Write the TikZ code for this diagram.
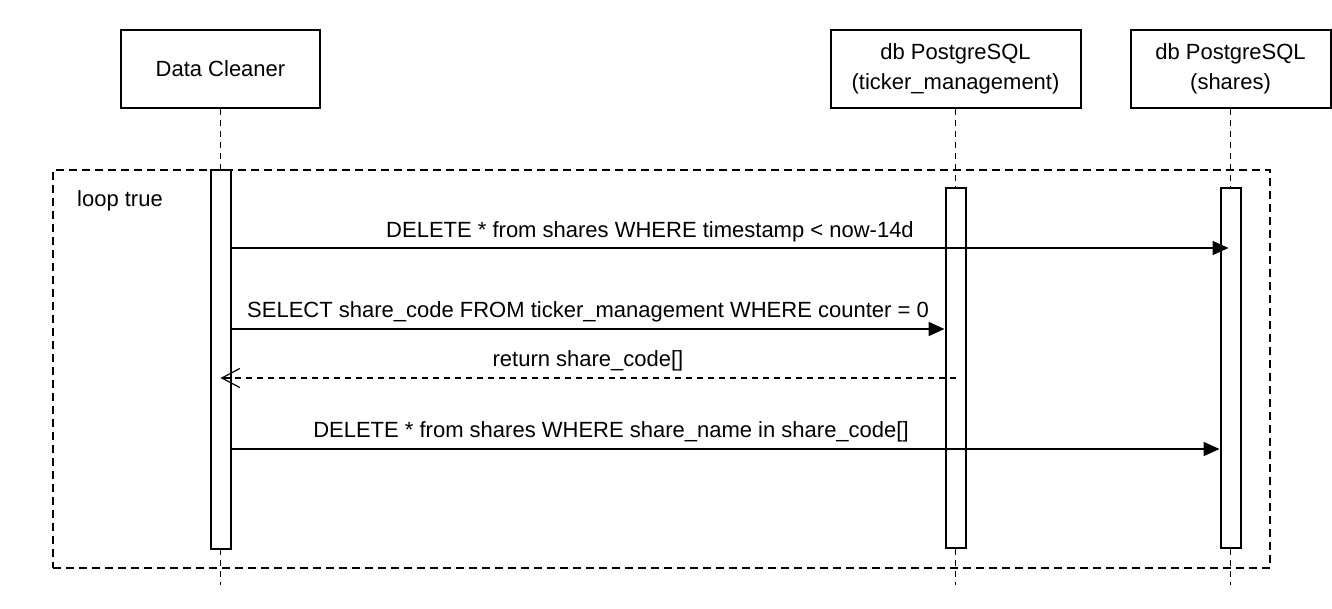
\documentclass[tikz,border=0pt]{standalone}
\usepackage{fontspec}
\setmainfont{Liberation Sans}
\usetikzlibrary{arrows.meta}
\tikzset{
  txt/.style={font=\fontsize{22}{30}\selectfont, inner sep=0pt},
  participant/.style={draw, line width=2pt, fill=white, txt, align=center},
  lifeline/.style={line width=1.8pt, dash pattern=on 6pt off 5pt},
  frame/.style={line width=2pt, dash pattern=on 8pt off 5pt},
  actbar/.style={draw, line width=2pt, fill=white, minimum width=20pt, inner sep=0pt},
  msg/.style={line width=1.8pt, -{Triangle[length=16pt,width=14pt]}},
  ret/.style={line width=1.8pt, dash pattern=on 6pt off 5pt, -{Straight Barb[length=18pt,width=19pt,line width=1.2pt]}},
}
\begin{document}
\begin{tikzpicture}[x=1pt,y=-1pt]
\useasboundingbox (0,0) rectangle (1332,608);
% participants
\node[participant, minimum width=199pt, minimum height=78pt] (p1) at (220.5,69) {Data Cleaner};
\node[participant, minimum width=250pt, minimum height=78pt] (p2) at (955.5,69) {db PostgreSQL\\(ticker\_management)};
\node[participant, minimum width=200pt, minimum height=78pt] (p3) at (1230.5,69) {db PostgreSQL\\(shares)};
% lifeline ends
\coordinate (e1) at (220.5,585);
\coordinate (e2) at (955.5,585);
\coordinate (e3) at (1230.5,585);
\draw[lifeline] (p1.south) -- (e1);
\draw[lifeline] (p2.south) -- (e2);
\draw[lifeline] (p3.south) -- (e3);
% loop frame
\node[draw, frame, minimum width=1217pt, minimum height=398pt, inner sep=0pt] (loop) at (661.5,369) {};
\node[txt, anchor=west] (looplbl) at (77,201) {loop true};
% activation bars
\node[actbar, minimum height=379pt] (a1) at (220.5,359) {};
\node[actbar, minimum height=360pt] (a2) at (955.5,368) {};
\node[actbar, minimum height=360pt] (a3) at (1230.5,368) {};
% message rows
\coordinate (m1) at (0,248);
\coordinate (m2) at (0,329);
\coordinate (m3) at (0,378);
\coordinate (m4) at (0,449);
\draw[msg, shorten >=2pt] (a1.east |- m1) -- (a3.center |- m1);
\node[txt] (l1) at (650,232) {DELETE * from shares WHERE timestamp < now-14d};
\draw[msg] (a1.east |- m2) -- (a2.west |- m2);
\node[txt] (l2) at (588,312) {SELECT share\_code FROM ticker\_management WHERE counter = 0};
\draw[ret] (a2.center |- m3) -- (a1.center |- m3);
\node[txt] (l3) at (588,361) {return share\_code[]};
\draw[msg] (a1.east |- m4) -- (a3.west |- m4);
\node[txt] (l4) at (611,432) {DELETE * from shares WHERE share\_name in share\_code[]};
\end{tikzpicture}
\end{document}
